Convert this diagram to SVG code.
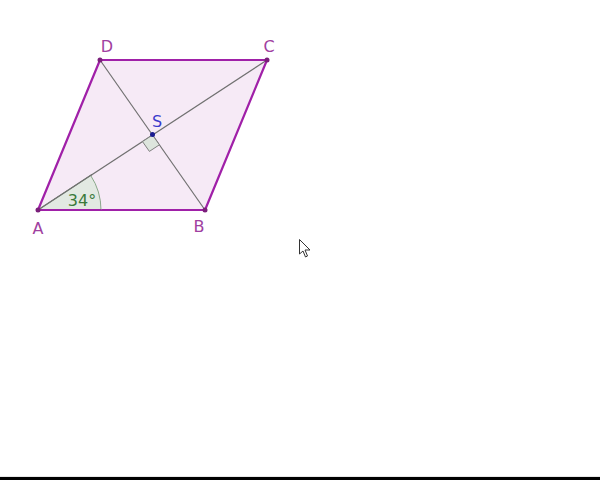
<svg xmlns="http://www.w3.org/2000/svg" width="600" height="480" viewBox="0 0 600 480">
<style>
.lbl{font-family:"DejaVu Sans","Liberation Sans",sans-serif;font-size:16px;fill:#a040a0;text-anchor:middle}
.pt{fill:#7a1f7a}
</style>
<rect width="600" height="480" fill="#ffffff"/>
<g id="rhombus">
<polygon points="38,210 205,210 267,60 100,60" fill="#f6eaf6" stroke="#a020a8" stroke-width="2.2" stroke-linejoin="round"/>
</g>
<g id="connectors" stroke="#707070" stroke-width="1.2" fill="none">
<line x1="38" y1="210" x2="267" y2="60"/>
<line x1="100" y1="60" x2="205" y2="210"/>
</g>
<g id="angle">
<path d="M38,210 L101,210 A63,63 0 0 0 90.7,175.5 Z" fill="#dde8dd" fill-opacity="0.8" stroke="#8aa88a" stroke-width="1"/>
<line x1="38" y1="210" x2="101" y2="210" stroke="#a020a8" stroke-width="2.2"/>
<line x1="38" y1="210" x2="92" y2="174.6" stroke="#707070" stroke-width="1.2"/>
<text x="82" y="206" font-family="DejaVu Sans,Liberation Sans,sans-serif" font-size="16" fill="#3a7a3a" text-anchor="middle">34°</text>
</g>
<g id="right-angle">
<polygon points="152.5,135 142.5,141.6 149.4,151.4 159.4,144.8" fill="#dde5dd" stroke="#808080" stroke-width="1"/>
</g>
<g id="A"><circle cx="38" cy="210" r="2.5" class="pt"/><text x="38" y="234" class="lbl">A</text></g>
<g id="B"><circle cx="205" cy="210" r="2.5" class="pt"/><text x="199" y="232" class="lbl">B</text></g>
<g id="C"><circle cx="267" cy="60" r="2.5" class="pt"/><text x="269" y="52" class="lbl">C</text></g>
<g id="D"><circle cx="100" cy="60" r="2.5" class="pt"/><text x="107" y="52" class="lbl">D</text></g>
<g id="S"><circle cx="152.5" cy="134.5" r="2.5" fill="#1a1a90"/><text x="157" y="127" class="lbl" style="fill:#3a3acc">S</text></g>
<g id="cursor">
<path d="M299.5,239.5 L299.5,254 L303,251 L305.5,257 L307.5,256 L305,250 L310,250 Z" fill="#ffffff" stroke="#333333" stroke-width="1"/>
</g>
<rect x="0" y="477" width="600" height="3" fill="#000000"/>
<rect x="0" y="476" width="600" height="1" fill="#e8e8e8"/>
</svg>
